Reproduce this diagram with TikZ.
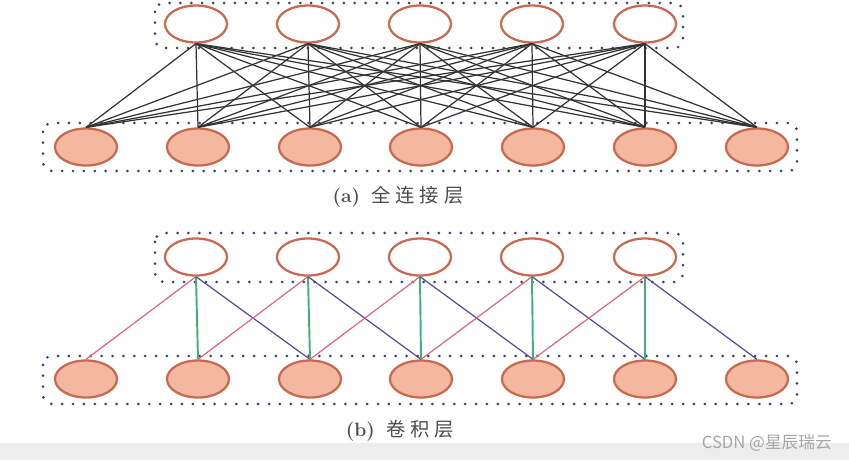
\documentclass[tikz,border=0pt]{standalone}
\usepackage{fontspec}
\newfontfamily\cjk{Noto Sans CJK SC}
\newfontfamily\cjkcap[LetterSpace=25]{Noto Sans CJK SC}
\definecolor{ringc}{HTML}{C86A52}
\definecolor{fillc}{HTML}{F4B8A0}
\definecolor{boxc}{HTML}{3C4170}
\definecolor{redl}{HTML}{D8697E}
\definecolor{greenl}{HTML}{3DB27A}
\definecolor{bluel}{HTML}{4F4F96}
\tikzset{
    upper/.style={ellipse, draw=ringc, line width=1.3pt, fill=white, minimum width=62*0.02cm, minimum height=37*0.02cm, inner sep=0pt},
    lower/.style={upper, fill=fillc},
    layerbox/.style={draw=boxc, line width=1.7pt, line cap=round, dash pattern=on 0pt off 6.2pt, rounded corners=5pt},
    caption/.style={font=\fontsize{11}{12}\selectfont, text=black!70}
}
\usetikzlibrary{shapes.geometric}
\begin{document}
\begin{tikzpicture}[x=0.02cm, y=-0.02cm]
    \useasboundingbox (0, 0) rectangle (849, 460);
    \fill[black!7] (0, 443) rectangle (849, 460);
    % (a) fully connected
    \draw[layerbox] (155, 3) rectangle (683, 48);
    \draw[layerbox] (43, 123) rectangle (797, 171);
    \foreach \i/\x in {1/196, 2/308, 3/420, 4/532, 5/645}
        \node[upper] (ta\i) at (\x, 24) {};
    \foreach \j/\x in {1/86, 2/198, 3/310, 4/421, 5/533, 6/645, 7/757}
        \node[lower] (ba\j) at (\x, 147) {};
    \foreach \i in {1,...,5}
        \foreach \j in {1,...,7}
            \draw[black!80, line width=0.7pt] (ta\i.south) -- (ba\j.north);
    \node[caption] (capa) at (398, 197) {\textbf{(a)}\hspace{0.6em}{\cjkcap 全连接层}};
    % (b) convolution
    \draw[layerbox] (155, 233) rectangle (683, 282);
    \draw[layerbox] (43, 356) rectangle (797, 404);
    \foreach \i/\x in {1/196, 2/308, 3/420, 4/532, 5/645}
        \node[upper] (tb\i) at (\x, 257) {};
    \foreach \j/\x in {1/86, 2/198, 3/310, 4/421, 5/533, 6/645, 7/757}
        \node[lower] (bb\j) at (\x, 379) {};
    \foreach \i [evaluate=\i as \k using int(\i+1), evaluate=\i as \m using int(\i+2)] in {1,...,5} {
        \draw[redl, line width=0.7pt] (tb\i.south) -- (bb\i.north);
        \draw[greenl, line width=1.1pt] (tb\i.south) -- (bb\k.north);
        \draw[bluel, line width=0.7pt] (tb\i.south) -- (bb\m.north);
    }
    \node[caption] (capb) at (400, 431) {\textbf{(b)}\hspace{0.6em}{\cjkcap 卷积层}};
    \node[font=\cjk\fontsize{9.5}{10}\selectfont, text=black!35, anchor=east] (mark) at (838, 443) {CSDN @星辰瑞云};
\end{tikzpicture}
\end{document}
